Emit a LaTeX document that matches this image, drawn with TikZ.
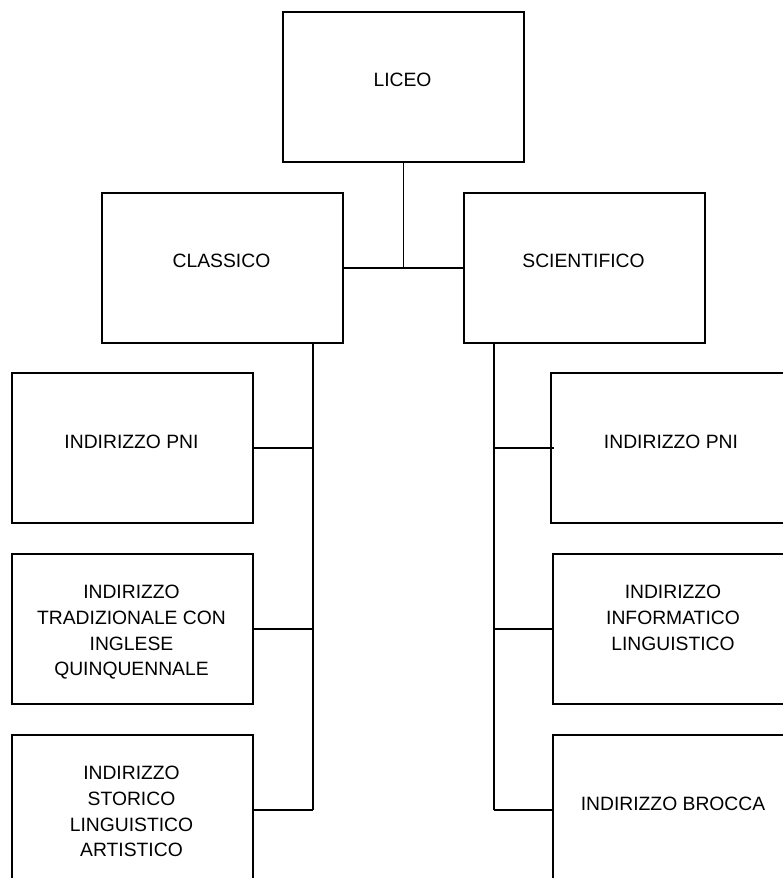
\documentclass[tikz,border=0pt]{standalone}
\usepackage{fontspec}
\setmainfont{Liberation Sans}
\begin{document}
\begin{tikzpicture}[x=1pt,y=-1pt,
  box/.style={draw, line width=1.6pt, minimum width=241pt, minimum height=150pt, inner sep=0pt, anchor=north west},
  lbl/.style={font=\fontsize{19.3}{25.7}\selectfont, align=center, inner sep=0pt},
  conn/.style={line width=1.4pt}]
\useasboundingbox (0,0) rectangle (783,878);
\clip (0,0) rectangle (783,878);
% boxes
\node[box] (liceo) at (282,11) {};
\node[box] (classico) at (101,192) {};
\node[box] (scient) at (463,192) {};
\node[box] (l1) at (11,372) {};
\node[box] (l2) at (11,553) {};
\node[box] (l3) at (11,734) {};
\node[box] (r1) at (550,372) {};
\node[box] (r2) at (552,553) {};
\node[box] (r3) at (552,734) {};
% texts
\node[lbl, anchor=base] (tliceo) at (402.5,86) {LICEO};
\node[lbl, anchor=base] (tclassico) at (221.5,267) {CLASSICO};
\node[lbl, anchor=base] (tscient) at (583.5,267) {SCIENTIFICO};
\node[lbl, anchor=base] (tl1) at (131.5,448) {INDIRIZZO PNI};
\node[lbl, anchor=north] (tl2) at (131.5,585.2) {INDIRIZZO\\TRADIZIONALE CON\\INGLESE\\QUINQUENNALE};
\node[lbl, anchor=north] (tl3) at (131.5,766.2) {INDIRIZZO\\STORICO\\LINGUISTICO\\ARTISTICO};
\node[lbl, anchor=base] (tr1) at (671,448) {INDIRIZZO PNI};
\node[lbl, anchor=north] (tr2) at (673,585.2) {INDIRIZZO\\INFORMATICO\\LINGUISTICO};
\node[lbl, anchor=base] (tr3) at (673,810) {INDIRIZZO BROCCA};
% connectors
\draw[conn] (liceo.south) -- (liceo.south |- classico.east);
\draw[conn] (classico.east) -- (scient.west);
\coordinate (cl) at (313,342);
\coordinate (cr) at (494,342);
\draw[conn] (cl) -- (cl |- l3.east);
\draw[conn] (l1.east) -- (l1.east -| cl);
\draw[conn] (l2.east) -- (l2.east -| cl);
\draw[conn] (l3.east) -- (l3.east -| cl);
\draw[conn] (cr) -- (cr |- r3.west);
\draw[conn] (r1.west -| cr) -- ([xshift=4pt]r1.west);
\draw[conn] (r2.west -| cr) -- ([xshift=2pt]r2.west);
\draw[conn] (r3.west -| cr) -- (r3.west);
\end{tikzpicture}
\end{document}
